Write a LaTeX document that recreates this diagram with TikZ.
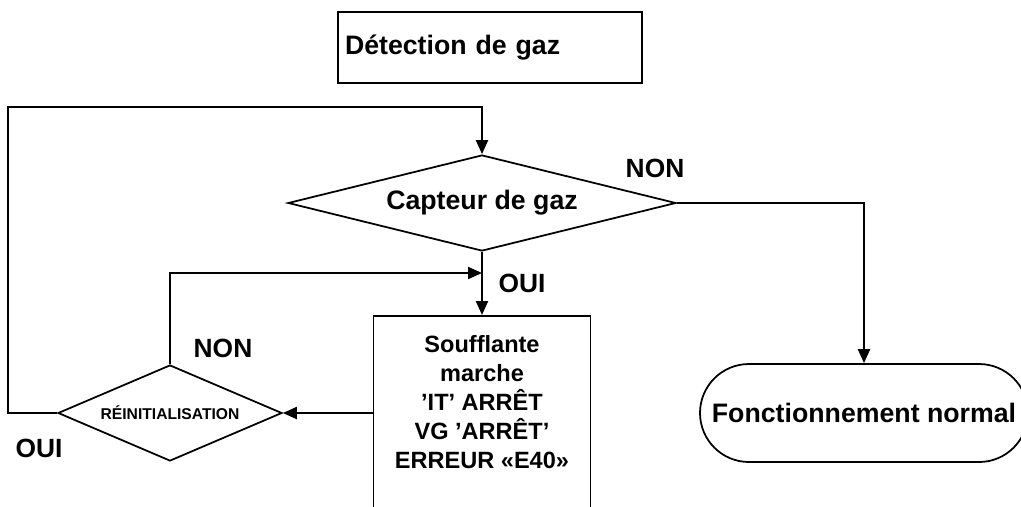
\documentclass[tikz,border=0pt]{standalone}
\usepackage{fontspec}
\setmainfont{Liberation Sans}
\usetikzlibrary{arrows.meta,positioning,calc,shapes.geometric}

\begin{document}
\begin{tikzpicture}[
    box/.style={draw,line width=1pt,minimum width=4.34cm,minimum height=4.3cm},
    decision/.style={draw,diamond,line width=1pt,inner sep=0pt,font=\bfseries\fontsize{15.2}{18}\selectfont},
    terminal/.style={draw,rectangle,rounded corners=0.98cm,line width=1pt,minimum width=6.56cm,minimum height=1.96cm,font=\bfseries\fontsize{15.2}{18}\selectfont},
    lbl/.style={font=\bfseries\fontsize{15}{18}\selectfont,inner sep=0pt},
    flow/.style={->,line width=1.2pt},
    >={Triangle[length=0.28cm,width=0.24cm]}
]
\useasboundingbox (0,0) rectangle (20.42,10.12);

\node[draw,line width=1pt,minimum width=6.08cm,minimum height=1.42cm,text width=5.8cm,align=left,inner xsep=0.14cm,font=\bfseries\fontsize{15.2}{18}\selectfont] (detect) at (9.8,9.17) {Détection de gaz};

\node[decision,aspect=4.04,minimum width=7.76cm,minimum height=1.92cm] (capt) at (9.64,6.06) {Capteur de gaz};
\node[box,anchor=north] (souf) at (9.64,3.82) {};
\node[lbl,below=0.4cm,align=center,font=\bfseries\fontsize{13.4}{16.5}\selectfont] (soufTxt) at (souf.north) {Soufflante\\marche\\'IT' ARRÊT\\VG 'ARRÊT'\\ERREUR «E40»};
\node[decision,aspect=2.33,minimum width=4.48cm,minimum height=1.92cm,font=\bfseries\fontsize{8.9}{10}\selectfont] (reset) at (3.4,1.86) {RÉINITIALISATION};
\node[terminal] (normal) at (17.28,1.86) {Fonctionnement normal};

\coordinate (merge) at (9.64,4.66);

\draw[flow] (capt.south) -- (souf.north);
\draw[flow] (capt.east) -| (normal.north);
\draw[flow] (souf.west |- reset.east) -- (reset.east);
\draw[flow] (reset.north) |- (merge);
\draw[flow] (reset.west) -| (0.16,7.98) -| (capt.north);

\node[lbl] (nonCapt) at (13.1,6.76) {NON};
\node[lbl] (ouiCapt) at (10.44,4.46) {OUI};
\node[lbl] (nonReset) at (4.46,3.16) {NON};
\node[lbl] (ouiReset) at (0.78,1.16) {OUI};
\end{tikzpicture}
\end{document}
